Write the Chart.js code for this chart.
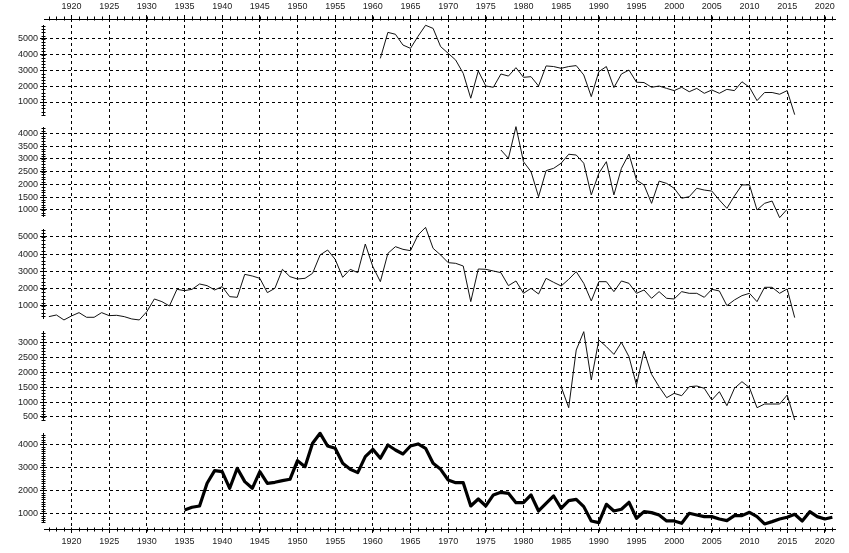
<!DOCTYPE html>
<html>
<head>
<meta charset="utf-8">
<script src="https://cdn.jsdelivr.net/npm/chart.js@4.4.1/dist/chart.umd.min.js"></script>
<style>
  html, body { margin: 0; padding: 0; background: #fff; }
  #wrap { width: 849px; height: 553px; }
</style>
</head>
<body>
<div id="wrap"><canvas id="myChart"></canvas></div>
<script>
// first year of each series, then one value per year
const start1 = 1961;
const values1 = [3760, 5400, 5280, 4600, 4390, 5150, 5850, 5650, 4500, 4080,
  3650, 2810, 1240, 2960, 2010, 1930, 2770, 2640, 3170, 2560,
  2600, 2010, 3280, 3240, 3130, 3240, 3300, 2710, 1340, 2920,
  3240, 1910, 2770, 3020, 2250, 2230, 1930, 2010, 1860, 1720,
  1930, 1650, 1860, 1550, 1760, 1550, 1800, 1720, 2280, 1930,
  1090, 1600, 1600, 1490, 1720, 200];

const start2 = 1977;
const values2 = [3347, 3020, 4260, 2890, 2500, 1520, 2540, 2630, 2830, 3180,
  3150, 2830, 1590, 2435, 2890, 1590, 2630, 3190, 2170, 1980,
  1260, 2130, 2040, 1850, 1460, 1520, 1850, 1780, 1740, 1390,
  1065, 1550, 1980, 1980, 1000, 1260, 1350, 700, 1030];

const start3 = 1917;
const values3 = [386, 482, 194, 425, 617, 348, 348, 617, 444, 463,
  386, 252, 194, 675, 1405, 1252, 1002, 1963, 1886, 1963,
  2271, 2175, 1925, 2117, 1540, 1502, 2828, 2732, 2598, 1771,
  2021, 3117, 2694, 2559, 2598, 2886, 3944, 4232, 3694, 2655,
  3117, 2925, 4578, 3271, 2405, 4040, 4425, 4271, 4194, 5098,
  5540, 4328, 3944, 3502, 3463, 3309, 1252, 3136, 3117, 3021,
  2925, 2175, 2444, 1732, 2021, 1694, 2598, 2367, 2155, 2540,
  2982, 2309, 1290, 2405, 2405, 1828, 2444, 2309, 1732, 1925,
  1444, 1828, 1444, 1405, 1828, 1732, 1732, 1502, 1963, 1867,
  1021, 1348, 1598, 1732, 1252, 2079, 2079, 1732, 1982, 329];

const start4 = 1985;
const values4 = [1514, 811, 2742, 3356, 1738, 3077, 2854, 2597, 2999, 2519,
  1570, 2709, 1927, 1514, 1146, 1291, 1213, 1514, 1537, 1459,
  1068, 1347, 878, 1459, 1682, 1481, 811, 934, 934, 934,
  1235, 398];

const start5 = 1935;
const values5 = [1145, 1261, 1319, 2304, 2855, 2811, 2087, 2956, 2376, 2087,
  2811, 2304, 2347, 2420, 2478, 3289, 3028, 4043, 4477, 3927,
  3825, 3173, 2912, 2768, 3463, 3782, 3391, 3970, 3753, 3579,
  3927, 4014, 3825, 3173, 2912, 2449, 2333, 2333, 1319, 1623,
  1319, 1797, 1913, 1869, 1463, 1463, 1797, 1101, 1435, 1753,
  1217, 1550, 1608, 1290, 667, 594, 1391, 1101, 1174, 1478,
  783, 1072, 1029, 927, 667, 667, 565, 1000, 927, 855,
  855, 754, 681, 898, 898, 1043, 855, 536, 638, 754,
  826, 956, 667, 1072, 855, 754, 826];

const xTicks = [1920, 1925, 1930, 1935, 1940, 1945, 1950, 1955, 1960, 1965, 1970,
  1975, 1980, 1985, 1990, 1995, 2000, 2005, 2010, 2015, 2020];
const yTicks1 = [1000, 2000, 3000, 4000, 5000];
const yTicks2 = [1000, 1500, 2000, 2500, 3000, 3500, 4000];
const yTicks3 = [1000, 2000, 3000, 4000, 5000];
const yTicks4 = [500, 1000, 1500, 2000, 2500, 3000];
const yTicks5 = [1000, 2000, 3000, 4000];

function toPoints(startYear, values) {
  return values.map((v, i) => ({ x: startYear + i, y: v }));
}

Chart.defaults.font.family = "'Liberation Sans', Arial, sans-serif";
Chart.defaults.font.size = 9;
Chart.defaults.color = '#222';

const gridDash = [3, 3];

function yScale(ticks, min, max, weight, minorStep) {
  return {
    type: 'linear',
    position: 'left',
    stack: 'panels',
    stackWeight: 1,
    weight: weight,
    min: min,
    max: max,
    minorStep: minorStep,
    afterBuildTicks: s => { s.ticks = ticks.map(v => ({ value: v })); },
    afterFit: s => { s.width = 44; },
    ticks: { padding: 2, autoSkip: false, callback: v => String(v), color: '#222' },
    grid: { color: '#000', lineWidth: 1, tickLength: 4, tickColor: '#000' },
    border: { display: false, dash: gridDash }
  };
}

const axisDecor = {
  id: 'axisDecor',
  afterDraw(chart) {
    const ctx = chart.ctx;
    ctx.save();
    ctx.strokeStyle = '#000';
    ctx.lineWidth = 1;
    ['y1', 'y2', 'y3', 'y4', 'y5'].forEach(id => {
      const s = chart.scales[id];
      const x = Math.round(s.right) - 0.5;
      const top = s.top + 6, bot = s.bottom - 6;
      ctx.beginPath();
      ctx.moveTo(x, top);
      ctx.lineTo(x, bot);
      const step = s.options.minorStep;
      const lo = s.getValueForPixel(bot), hi = s.getValueForPixel(top);
      for (let v = Math.ceil(lo / step) * step; v <= hi; v += step) {
        const y = Math.round(s.getPixelForValue(v)) + 0.5;
        ctx.moveTo(x - 2, y);
        ctx.lineTo(x + 2, y);
      }
      ctx.stroke();
    });
    ['x', 'x2'].forEach(id => {
      const s = chart.scales[id];
      const y = id === 'x' ? Math.round(s.top) + 0.5 : Math.round(s.bottom) - 0.5;
      ctx.beginPath();
      for (let v = Math.ceil(s.min); v <= s.max; v++) {
        const px = Math.round(s.getPixelForValue(v)) + 0.5;
        ctx.moveTo(px, y - 2);
        ctx.lineTo(px, y + 2);
      }
      ctx.stroke();
    });
    ctx.restore();
  }
};

const xMin = 1916.35, xMax = 2021.35;

new Chart(document.getElementById('myChart'), {
  type: 'line',
  data: {
    datasets: [
      { data: toPoints(start1, values1), yAxisID: 'y1', borderColor: '#111', borderWidth: 1 },
      { data: toPoints(start2, values2), yAxisID: 'y2', borderColor: '#111', borderWidth: 1 },
      { data: toPoints(start3, values3), yAxisID: 'y3', borderColor: '#111', borderWidth: 1 },
      { data: toPoints(start4, values4), yAxisID: 'y4', borderColor: '#111', borderWidth: 1 },
      { data: toPoints(start5, values5), yAxisID: 'y5', borderColor: '#000', borderWidth: 3.2 }
    ]
  },
  options: {
    responsive: true,
    maintainAspectRatio: false,
    animation: false,
    layout: { padding: { left: 0, right: 14, top: 0, bottom: 0 } },
    elements: {
      point: { radius: 0 },
      line: { tension: 0, fill: false, borderJoinStyle: 'round' }
    },
    plugins: { legend: { display: false }, tooltip: { enabled: false } },
    scales: {
      x: {
        type: 'linear',
        position: 'bottom',
        min: xMin,
        max: xMax,
        afterBuildTicks: s => { s.ticks = xTicks.map(v => ({ value: v })); },
        afterFit: s => { s.height = 24; },
        ticks: { maxRotation: 0, autoSkip: false, padding: 3, callback: v => String(v), color: '#222' },
        grid: { color: '#000', lineWidth: 1, tickLength: 4, tickColor: '#000' },
        border: { display: true, color: '#000', width: 1, dash: gridDash }
      },
      x2: {
        type: 'linear',
        position: 'top',
        min: xMin,
        max: xMax,
        afterBuildTicks: s => { s.ticks = xTicks.map(v => ({ value: v })); },
        afterFit: s => { s.height = 19; },
        ticks: { maxRotation: 0, autoSkip: false, padding: 3, callback: v => String(v), color: '#222' },
        grid: { drawOnChartArea: false, tickLength: 4, tickColor: '#000' },
        border: { display: true, color: '#000', width: 1 }
      },
      y1: yScale(yTicks1, -200, 6245, 5, 200),
      y2: yScale(yTicks2, 491, 4481, 4, 100),
      y3: yScale(yTicks3, -97, 5791, 3, 200),
      y4: yScale(yTicks4, 165, 3579, 2, 100),
      y5: yScale(yTicks5, 317, 4752, 1, 100)
    }
  },
  plugins: [axisDecor]
});
</script>
</body>
</html>
